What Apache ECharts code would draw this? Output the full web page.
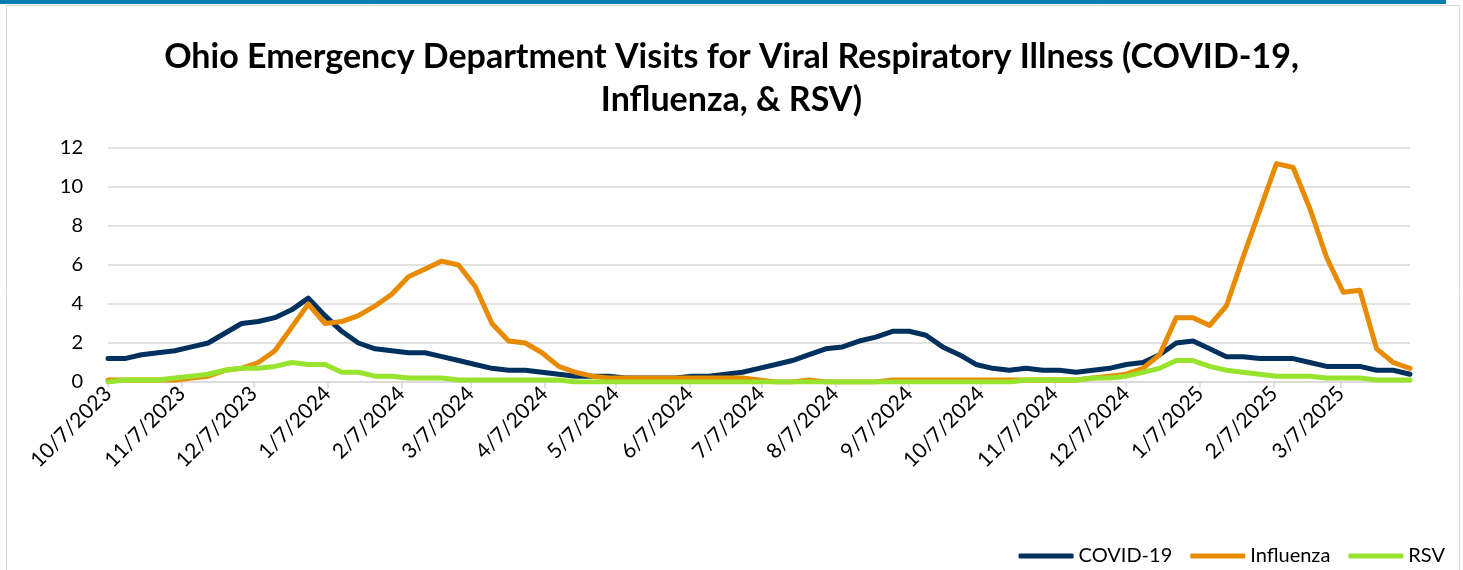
<!DOCTYPE html>
<html>
<head>
<meta charset="utf-8">
<title>Ohio ED Visits for Viral Respiratory Illness</title>
<script src="https://cdn.jsdelivr.net/npm/echarts@6/dist/echarts.min.js"></script>
<style>
  html, body { margin: 0; padding: 0; background: #fff; }
  #chart { width: 1463px; height: 570px; }
</style>
</head>
<body>
<div id="chart"></div>
<script>
// weekly dates (week ending)
const weekDates = [
  '2023-10-07', '2023-10-14', '2023-10-21', '2023-10-28', '2023-11-04', '2023-11-11', '2023-11-18', '2023-11-25',
  '2023-12-02', '2023-12-09', '2023-12-16', '2023-12-23', '2023-12-30', '2024-01-06', '2024-01-13', '2024-01-20',
  '2024-01-27', '2024-02-03', '2024-02-10', '2024-02-17', '2024-02-24', '2024-03-02', '2024-03-09', '2024-03-16',
  '2024-03-23', '2024-03-30', '2024-04-06', '2024-04-13', '2024-04-20', '2024-04-27', '2024-05-04', '2024-05-11',
  '2024-05-18', '2024-05-25', '2024-06-01', '2024-06-08', '2024-06-15', '2024-06-22', '2024-06-29', '2024-07-06',
  '2024-07-13', '2024-07-20', '2024-07-27', '2024-08-03', '2024-08-10', '2024-08-17', '2024-08-24', '2024-08-31',
  '2024-09-07', '2024-09-14', '2024-09-21', '2024-09-28', '2024-10-05', '2024-10-12', '2024-10-19', '2024-10-26',
  '2024-11-02', '2024-11-09', '2024-11-16', '2024-11-23', '2024-11-30', '2024-12-07', '2024-12-14', '2024-12-21',
  '2024-12-28', '2025-01-04', '2025-01-11', '2025-01-18', '2025-01-25', '2025-02-01', '2025-02-08', '2025-02-15',
  '2025-02-22', '2025-03-01', '2025-03-08', '2025-03-15', '2025-03-22', '2025-03-29', '2025-04-05'
];

// tick labels on the x axis
const tickDates = [
  '2023-10-07', '2023-11-07', '2023-12-07', '2024-01-07', '2024-02-07', '2024-03-07',
  '2024-04-07', '2024-05-07', '2024-06-07', '2024-07-07', '2024-08-07', '2024-09-07',
  '2024-10-07', '2024-11-07', '2024-12-07', '2025-01-07', '2025-02-07', '2025-03-07'
];

const covid = [
  1.2, 1.2, 1.4, 1.5, 1.6, 1.8, 2.0, 2.5, 3.0, 3.1,
  3.3, 3.7, 4.3, 3.4, 2.6, 2.0, 1.7, 1.6, 1.5, 1.5,
  1.3, 1.1, 0.9, 0.7, 0.6, 0.6, 0.5, 0.4, 0.3, 0.3,
  0.3, 0.2, 0.2, 0.2, 0.2, 0.3, 0.3, 0.4, 0.5, 0.7,
  0.9, 1.1, 1.4, 1.7, 1.8, 2.1, 2.3, 2.6, 2.6, 2.4,
  1.8, 1.4, 0.9, 0.7, 0.6, 0.7, 0.6, 0.6, 0.5, 0.6,
  0.7, 0.9, 1.0, 1.4, 2.0, 2.1, 1.7, 1.3, 1.3, 1.2,
  1.2, 1.2, 1.0, 0.8, 0.8, 0.8, 0.6, 0.6, 0.4
];

const influenza = [
  0.1, 0.1, 0.1, 0.1, 0.1, 0.2, 0.3, 0.6, 0.7, 1.0,
  1.6, 2.8, 4.0, 3.0, 3.1, 3.4, 3.9, 4.5, 5.4, 5.8,
  6.2, 6.0, 4.9, 3.0, 2.1, 2.0, 1.5, 0.8, 0.5, 0.3,
  0.2, 0.2, 0.2, 0.2, 0.2, 0.2, 0.2, 0.2, 0.2, 0.1,
  0.0, 0.0, 0.1, 0.0, 0.0, 0.0, 0.0, 0.1, 0.1, 0.1,
  0.1, 0.1, 0.1, 0.1, 0.1, 0.1, 0.1, 0.1, 0.1, 0.2,
  0.3, 0.4, 0.7, 1.4, 3.3, 3.3, 2.9, 3.9, 6.4, 8.8,
  11.2, 11.0, 8.9, 6.4, 4.6, 4.7, 1.7, 1.0, 0.7
];

const rsv = [
  0.0, 0.1, 0.1, 0.1, 0.2, 0.3, 0.4, 0.6, 0.7, 0.7,
  0.8, 1.0, 0.9, 0.9, 0.5, 0.5, 0.3, 0.3, 0.2, 0.2,
  0.2, 0.1, 0.1, 0.1, 0.1, 0.1, 0.1, 0.1, 0.0, 0.0,
  0.0, 0.0, 0.0, 0.0, 0.0, 0.0, 0.0, 0.0, 0.0, 0.0,
  0.0, 0.0, 0.0, 0.0, 0.0, 0.0, 0.0, 0.0, 0.0, 0.0,
  0.0, 0.0, 0.0, 0.0, 0.0, 0.1, 0.1, 0.1, 0.1, 0.2,
  0.2, 0.3, 0.5, 0.7, 1.1, 1.1, 0.8, 0.6, 0.5, 0.4,
  0.3, 0.3, 0.3, 0.2, 0.2, 0.2, 0.1, 0.1, 0.1
];

const yTicks = [0, 2, 4, 6, 8, 10, 12];

// x is plotted as days since the first week, so the month ticks can sit on the 7th
const DAY = 86400000;
function utc(s) {
  const p = s.split('-');
  return Date.UTC(+p[0], +p[1] - 1, +p[2]);
}
const start = utc(weekDates[0]);
function dayOf(s) { return Math.round((utc(s) - start) / DAY); }
function fmtDay(v) {
  const d = new Date(start + Math.round(v) * DAY);
  return (d.getUTCMonth() + 1) + '/' + d.getUTCDate() + '/' + d.getUTCFullYear();
}

const font = 'Lato';
const gridColor = '#d9d9d9';

function lineSeries(name, values, color) {
  return {
    name: name,
    type: 'line',
    symbol: 'none',
    data: weekDates.map((d, i) => [dayOf(d), values[i]]),
    lineStyle: { width: 5, color: color, cap: 'round', join: 'round' },
    itemStyle: { color: color },
    emphasis: { disabled: true }
  };
}

const chart = echarts.init(document.getElementById('chart'));
const tickDays = tickDates.map(dayOf);

chart.setOption({
  animation: false,
  backgroundColor: '#fff',
  textStyle: { fontFamily: font },
  title: {
    text: 'Ohio Emergency Department Visits for Viral Respiratory Illness (COVID-19,\nInfluenza, & RSV)',
    left: 'center',
    top: 31,
    textStyle: {
      fontFamily: font,
      fontSize: 34,
      fontWeight: 'bold',
      color: '#000',
      lineHeight: 43
    }
  },
  graphic: [
    { type: 'rect', shape: { x: 0, y: 0, width: 1446, height: 4 }, style: { fill: '#0b7db1' } },
    { type: 'rect', shape: { x: 6.5, y: 5.5, width: 1453, height: 600 }, style: { fill: 'none', stroke: '#d9d9d9', lineWidth: 1 } }
  ],
  legend: {
    data: ['COVID-19', 'Influenza', 'RSV'],
    icon: 'roundRect',
    right: 13,
    top: 541,
    itemWidth: 55,
    itemHeight: 5,
    itemGap: 18,
    textStyle: { fontFamily: font, fontSize: 20, color: '#000' }
  },
  grid: { left: 108, right: 53, top: 148, bottom: 188 },
  xAxis: {
    type: 'value',
    min: 0,
    max: dayOf(weekDates[weekDates.length - 1]),
    axisLine: { lineStyle: { color: gridColor, width: 1.5 } },
    axisTick: {
      show: true,
      length: 6,
      customValues: tickDays,
      lineStyle: { color: gridColor, width: 1.5 }
    },
    axisLabel: {
      customValues: tickDays,
      formatter: fmtDay,
      rotate: 45,
      margin: 8,
      fontFamily: font,
      fontSize: 21,
      color: '#000'
    },
    splitLine: { show: false }
  },
  yAxis: {
    type: 'value',
    min: yTicks[0],
    max: yTicks[yTicks.length - 1],
    interval: 2,
    axisLine: { show: false },
    axisTick: { show: false },
    axisLabel: { margin: 25, fontFamily: font, fontSize: 20, color: '#000' },
    splitLine: { lineStyle: { color: gridColor, width: 1.5 } }
  },
  series: [
    lineSeries('COVID-19', covid, '#00305e'),
    lineSeries('Influenza', influenza, '#e88b00'),
    lineSeries('RSV', rsv, '#97e32d')
  ]
});
</script>
</body>
</html>
